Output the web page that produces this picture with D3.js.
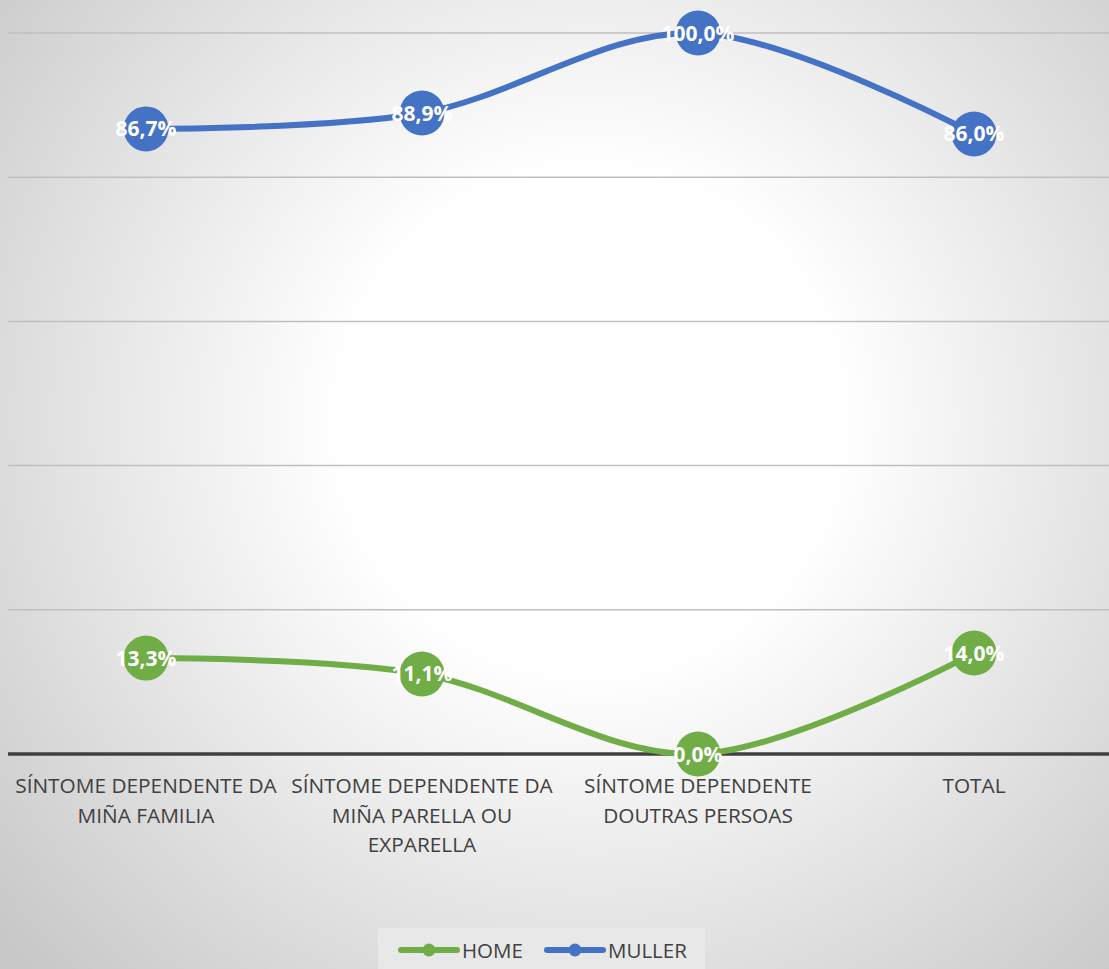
<!DOCTYPE html>
<html><head><meta charset="utf-8">
<script src="https://cdn.jsdelivr.net/npm/d3@7/dist/d3.min.js"></script>
<style>html,body{margin:0;padding:0;background:#fff;}svg{display:block;}</style>
</head><body>
<svg id="chart" width="1109" height="969"></svg>
<script>
const categories = ["SÍNTOME DEPENDENTE DA MIÑA FAMILIA","SÍNTOME DEPENDENTE DA MIÑA PARELLA OU EXPARELLA","SÍNTOME DEPENDENTE DOUTRAS PERSOAS","TOTAL"];
const tickLines = [["SÍNTOME DEPENDENTE DA","MIÑA FAMILIA"],["SÍNTOME DEPENDENTE DA","MIÑA PARELLA OU","EXPARELLA"],["SÍNTOME DEPENDENTE","DOUTRAS PERSOAS"],["TOTAL"]];
const seriesNames = ["HOME","MULLER"];
const home = [0.133, 0.111, 0.0, 0.140];
const muller = [0.867, 0.889, 1.0, 0.860];
const yTicks = [0, 0.2, 0.4, 0.6, 0.8, 1.0];
const colors = {HOME:"#70AD47", MULLER:"#4472C4"};

const W = 1109, H = 969;
const FONT = "'Open Sans', 'Noto Sans', sans-serif";
const svg = d3.select("#chart");
const defs = svg.append("defs");
const rg = defs.append("radialGradient").attr("id","bg").attr("gradientUnits","userSpaceOnUse")
  .attr("cx",590).attr("cy",420).attr("r",780);
rg.append("stop").attr("offset","0").attr("stop-color","#ffffff");
rg.append("stop").attr("offset","0.32").attr("stop-color","#ffffff");
rg.append("stop").attr("offset","1").attr("stop-color","#c8c8c8");
svg.append("rect").attr("width",W).attr("height",H).attr("fill","url(#bg)");

const x = d3.scalePoint().domain(categories).range([8, 1112]).padding(0.5);
const y = d3.scaleLinear().domain([0,1]).range([754, 33]);

// gridlines
svg.append("g").selectAll("line").data(yTicks.filter(d=>d>0)).join("line")
  .attr("x1",8).attr("x2",W).attr("y1",d=>y(d)).attr("y2",d=>y(d))
  .attr("stroke","#bfbfbf").attr("stroke-width",1.5);

// baseline
svg.append("line").attr("x1",8).attr("x2",W).attr("y1",y(0)).attr("y2",y(0))
  .attr("stroke","#404040").attr("stroke-width",3.5);

// category labels
const lab = svg.append("g").attr("font-family",FONT)
  .attr("font-size",20.8).attr("fill","#404040").attr("text-anchor","middle");
categories.forEach((c,i)=>{
  const t = lab.append("text").attr("x",x(c)).attr("y",793);
  tickLines[i].forEach((ln,j)=>{
    t.append("tspan").attr("x",x(c)).attr("dy", j===0?0:29.5).text(ln);
  });
});

const line = d3.line().x((d,i)=>x(categories[i])).y(d=>y(d)).curve(d3.curveCardinal.tension(0));
const fmt = v => d3.format(".1f")(v*100).replace(".",",")+"%";

[["HOME",home],["MULLER",muller]].forEach(([name,vals])=>{
  const g = svg.append("g");
  g.append("path").datum(vals).attr("d",line).attr("fill","none")
    .attr("stroke",colors[name]).attr("stroke-width",6).attr("stroke-linecap","round");
  g.selectAll("circle").data(vals).join("circle")
    .attr("cx",(d,i)=>x(categories[i])).attr("cy",d=>y(d)).attr("r",22.5)
    .attr("fill",colors[name]);
  g.selectAll("text").data(vals).join("text")
    .attr("x",(d,i)=>x(categories[i])).attr("y",d=>y(d)+7.5)
    .attr("text-anchor","middle").attr("font-family",FONT)
    .attr("font-weight","bold").attr("font-size",21).attr("fill","#ffffff")
    .text(d=>fmt(d));
});

// legend
const lg = svg.append("g");
lg.append("rect").attr("x",378).attr("y",928).attr("width",327).attr("height",41).attr("fill","#e8e8e8");
const legendItems = [{name:"HOME",x0:401},{name:"MULLER",x0:547}];
legendItems.forEach(it=>{
  lg.append("line").attr("x1",it.x0).attr("x2",it.x0+56).attr("y1",950).attr("y2",950)
    .attr("stroke",colors[it.name]).attr("stroke-width",6).attr("stroke-linecap","round");
  lg.append("circle").attr("cx",it.x0+28).attr("cy",950).attr("r",6.5).attr("fill",colors[it.name]);
  lg.append("text").attr("x",it.x0+61).attr("y",958).attr("font-family",FONT)
    .attr("font-size",20.5).attr("fill","#404040").text(it.name);
});
</script>
</body></html>
